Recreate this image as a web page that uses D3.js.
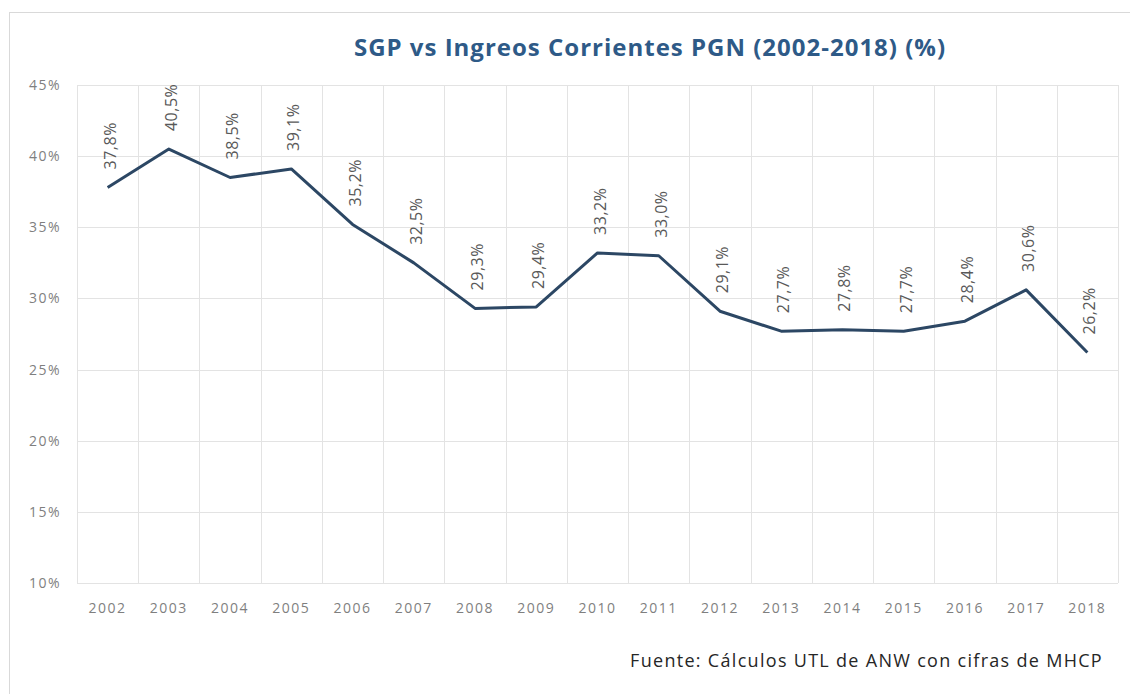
<!DOCTYPE html>
<html>
<head>
<meta charset="utf-8">
<script src="https://cdn.jsdelivr.net/npm/d3@7"></script>
<style>
    body { margin: 0; background: #fff; }
    svg { display: block; font-family: "Open Sans", "DejaVu Sans", sans-serif; }
</style>
</head>
<body>
<div id="chart"></div>
<script>
const years = ['2002', '2003', '2004', '2005', '2006', '2007', '2008', '2009', '2010',
    '2011', '2012', '2013', '2014', '2015', '2016', '2017', '2018'];
const sgpShare = [37.8, 40.5, 38.5, 39.1, 35.2, 32.5, 29.3, 29.4, 33.2,
    33.0, 29.1, 27.7, 27.8, 27.7, 28.4, 30.6, 26.2];
const yTicks = [10, 15, 20, 25, 30, 35, 40, 45];

const width = 1130, height = 694;
const plot = { left: 77, right: 1118, top: 85, bottom: 583 };

const svg = d3.select('#chart').append('svg')
    .attr('width', width)
    .attr('height', height);

// outer frame
svg.append('rect')
    .attr('x', 9.5).attr('y', 12.5)
    .attr('width', 1140).attr('height', 700)
    .attr('fill', '#fff')
    .attr('stroke', '#d9d9d9');

const x = d3.scaleBand()
    .domain(years)
    .range([plot.left, plot.right]);

const y = d3.scaleLinear()
    .domain([10, 45])
    .range([plot.bottom, plot.top]);

const fmt = v => d3.format('.1f')(v).replace('.', ',') + '%';

// horizontal gridlines
svg.append('g')
    .selectAll('line')
    .data(yTicks)
    .join('line')
    .attr('x1', plot.left).attr('x2', plot.right)
    .attr('y1', d => Math.round(y(d)) + 0.5)
    .attr('y2', d => Math.round(y(d)) + 0.5)
    .attr('stroke', '#e3e3e3');

// vertical gridlines at band edges
svg.append('g')
    .selectAll('line')
    .data(years.concat(['end']))
    .join('line')
    .attr('x1', (d, i) => Math.round(plot.left + i * x.step()) + 0.5)
    .attr('x2', (d, i) => Math.round(plot.left + i * x.step()) + 0.5)
    .attr('y1', plot.top).attr('y2', plot.bottom)
    .attr('stroke', '#e3e3e3');

// y axis labels
svg.append('g')
    .selectAll('text')
    .data(yTicks)
    .join('text')
    .attr('x', 61)
    .attr('y', d => y(d) + 5)
    .attr('text-anchor', 'end')
    .attr('font-size', 14)
    .attr('letter-spacing', 1.5)
    .attr('fill', '#7f7f7f')
    .text(d => d + '%');

// x axis labels
svg.append('g')
    .selectAll('text')
    .data(years)
    .join('text')
    .attr('x', d => x(d) + x.bandwidth() / 2)
    .attr('y', 613)
    .attr('text-anchor', 'middle')
    .attr('font-size', 14)
    .attr('letter-spacing', 1.5)
    .attr('fill', '#7f7f7f')
    .text(d => d);

const points = years.map((yr, i) => ({ year: yr, value: sgpShare[i] }));

svg.append('path')
    .datum(points)
    .attr('fill', 'none')
    .attr('stroke', '#2c4764')
    .attr('stroke-width', 3)
    .attr('stroke-linejoin', 'round')
    .attr('d', d3.line()
        .x(d => x(d.year) + x.bandwidth() / 2)
        .y(d => y(d.value))
    );

// value labels, rotated
svg.append('g')
    .selectAll('text')
    .data(points)
    .join('text')
    .attr('transform', d => `translate(${x(d.year) + x.bandwidth() / 2 + 8},${y(d.value) - 18}) rotate(-90)`)
    .attr('text-anchor', 'start')
    .attr('font-size', 16)
    .attr('letter-spacing', 0.5)
    .attr('fill', '#595959')
    .text(d => fmt(d.value));

// title
svg.append('text')
    .attr('x', 650)
    .attr('y', 56)
    .attr('text-anchor', 'middle')
    .attr('font-size', 24)
    .attr('font-weight', 'bold')
    .attr('letter-spacing', 1)
    .attr('fill', '#2e5a87')
    .text('SGP vs Ingreos Corrientes PGN (2002-2018) (%)');

// source note
svg.append('text')
    .attr('x', 1103)
    .attr('y', 667)
    .attr('text-anchor', 'end')
    .attr('font-size', 18)
    .attr('letter-spacing', 1.3)
    .attr('fill', '#262626')
    .text('Fuente: Cálculos UTL de ANW con cifras de MHCP');
</script>
</body>
</html>
